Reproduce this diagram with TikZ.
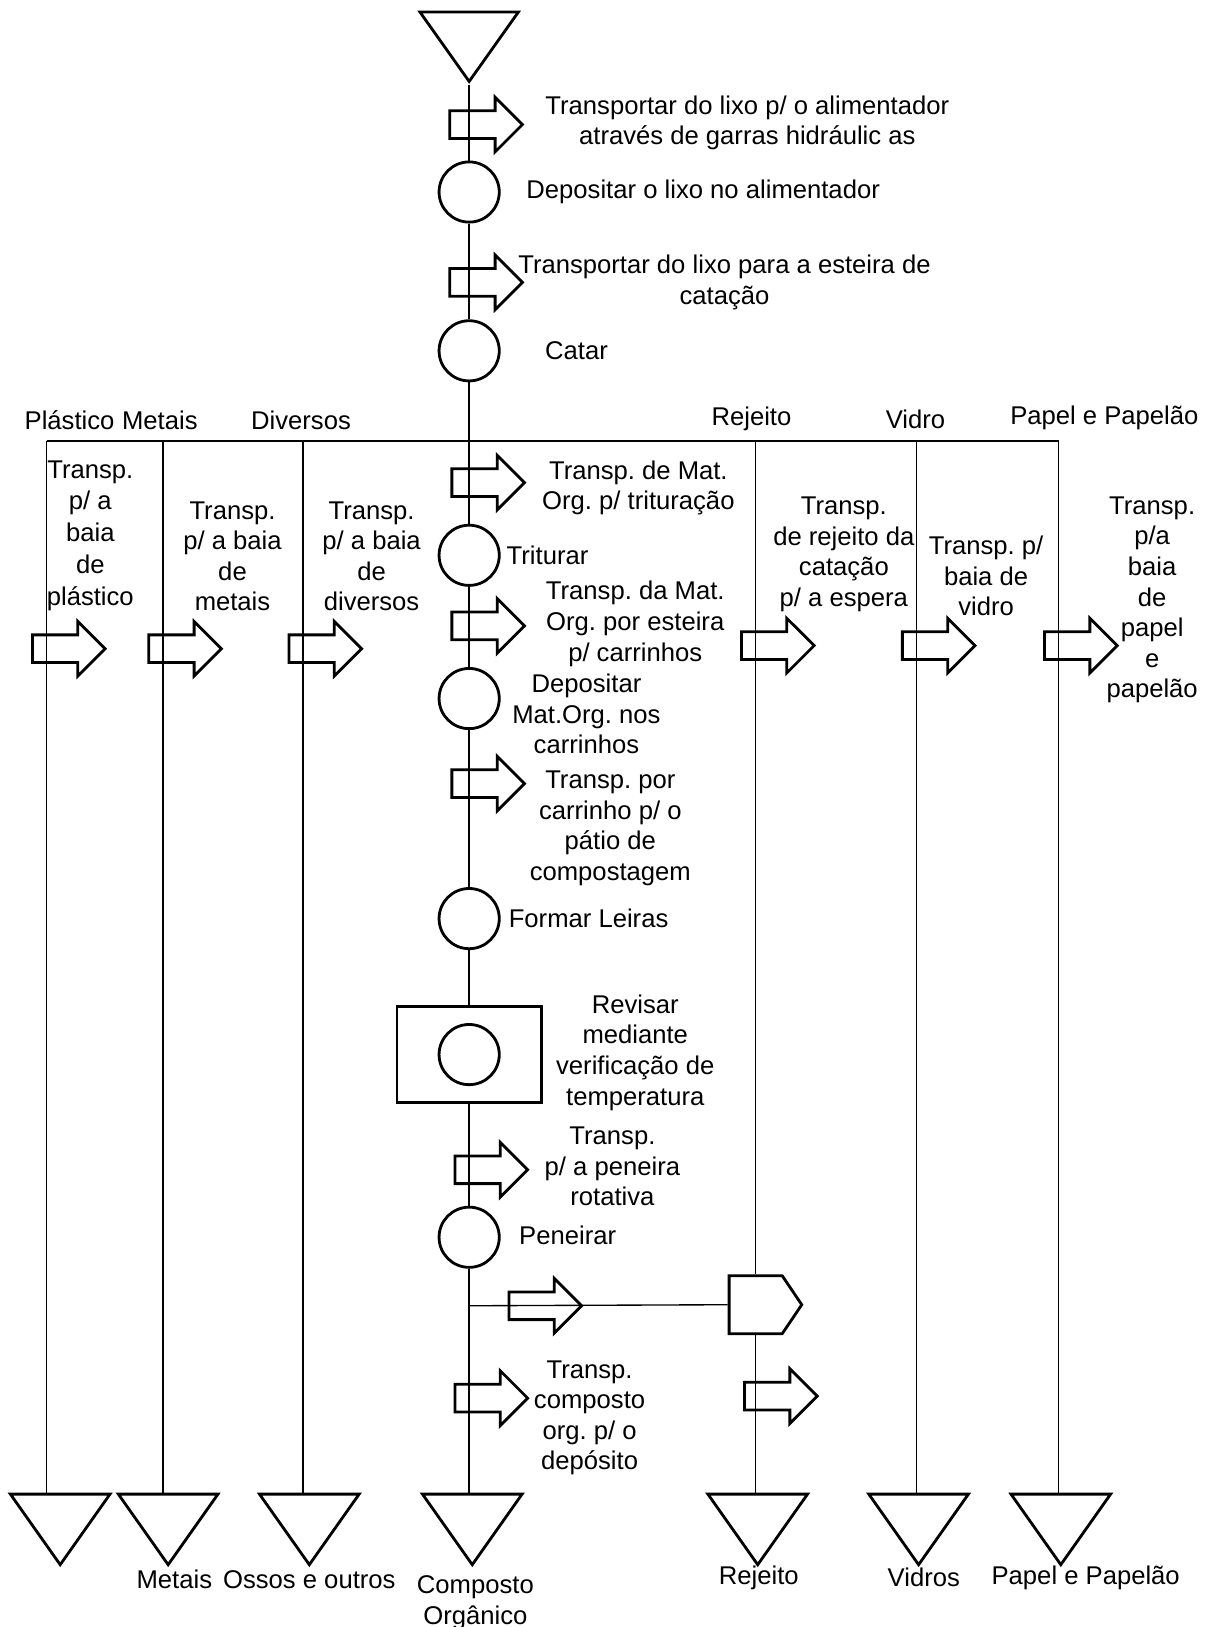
\documentclass[tikz,border=0pt]{standalone}
\usepackage{fontspec}
\setmainfont{Liberation Sans}
\usetikzlibrary{shapes.geometric,shapes.arrows,shapes.symbols}
\begin{document}
\frenchspacing
\begin{tikzpicture}[x=1pt,y=-1pt,
  font=\fontsize{24.7}{29.5}\selectfont,
  conn/.style={line width=1.3pt},
  opcirc/.style={circle,draw,line width=2.7pt,minimum size=58pt,inner sep=0pt},
  transp/.style={single arrow,draw,line width=2.7pt,single arrow head extend=13pt,
     single arrow tip angle=90,inner xsep=0pt,inner ysep=12pt,minimum height=70pt,anchor=tail},
  topstore/.style={isosceles triangle,draw,line width=2.7pt,shape border rotate=270,
     isosceles triangle stretches,minimum width=95pt,minimum height=67pt,inner sep=0pt,anchor=apex},
  botstore/.style={isosceles triangle,draw,line width=2.7pt,shape border rotate=270,
     isosceles triangle stretches,minimum width=96pt,minimum height=68pt,inner sep=0pt,anchor=apex},
  inspect/.style={rectangle,draw,line width=2.7pt,minimum width=139pt,minimum height=92pt,inner sep=0pt},
  delay/.style={signal,signal to=east,draw,line width=2.7pt,minimum width=70pt,minimum height=56pt,
     signal pointer angle=112,inner sep=0pt},
  lbl/.style={align=center,inner sep=0pt},
  lblw/.style={anchor=west,inner sep=0pt},
]
\useasboundingbox (0,0) rectangle (1160,1567.5);

% ---- main column nodes
\node[topstore] (T0) at (452,82) {};
\node[opcirc] (C1) at (452,185) {};
\node[opcirc] (C2) at (452,338) {};
\node[opcirc] (C3) at (452,535) {};
\node[opcirc] (C4) at (452,673) {};
\node[opcirc] (C5) at (452,885) {};
\node[inspect] (R) at (452,1016) {};
\node[opcirc] (RC) at (R.center) {};
\node[opcirc] (C6) at (452,1192) {};
\node[delay] (P) at (728,1257) {};

% ---- bottom storages
\node[botstore] (TPl) at (58,1511) {};
\node[botstore] (TMe) at (162,1511) {};
\node[botstore] (TDi) at (298,1511) {};
\node[botstore] (TCo) at (455,1511) {};
\node[botstore] (TRe) at (730,1511) {};
\node[botstore] (TVi) at (885,1511) {};
\node[botstore] (TPa) at (1022,1511) {};

% ---- column tops on the horizontal line
\coordinate (cPl) at (45,425);
\coordinate (cMe) at (157,425);
\coordinate (cDi) at (292,425);
\coordinate (cRe) at (728,425);
\coordinate (cVi) at (883,425);
\coordinate (cPa) at (1020,425);
\coordinate (br) at (452,1258);

% ---- connectors
\draw[conn] (T0.apex) -- (C1.north);
\draw[conn] (C1.south) -- (C2.north);
\draw[conn] (C2.south) -- (C3.north);
\draw[conn] (C3.south) -- (C4.north);
\draw[conn] (C4.south) -- (C5.north);
\draw[conn] (C5.south) -- (R.north);
\draw[conn] (R.south) -- (C6.north);
\draw[conn] (C6.south) -- (C6.south |- TCo.left corner);
\draw[conn] (br) -- (P.west);
\draw[conn] (cPl) -- (cPa);
\draw[conn] (cPl) -- (cPl |- TPl.left corner);
\draw[conn] (cMe) -- (cMe |- TMe.left corner);
\draw[conn] (cDi) -- (cDi |- TDi.left corner);
\draw[conn] (cRe) -- (P.north);
\draw[conn] (P.south) -- (P.south |- TRe.left corner);
\draw[conn] (cVi) -- (cVi |- TVi.left corner);
\draw[conn] (cPa) -- (cPa |- TPa.left corner);

% ---- transport arrows
\node[transp] (A1) at (432,120) {};
\node[transp] (A2) at (432,272) {};
\node[transp] (A3) at (434,465) {};
\node[transp] (A4) at (434,603) {};
\node[transp] (A5) at (434,755) {};
\node[transp] (A6) at (437,1127) {};
\node[transp] (A7) at (489,1258) {};
\node[transp] (A8) at (437,1347) {};
\node[transp] (A9) at (716,1345) {};
\node[transp] (S1) at (30,625) {};
\node[transp] (S2) at (142,625) {};
\node[transp] (S3) at (277,625) {};
\node[transp] (S4) at (713,622) {};
\node[transp] (S5) at (868,622) {};
\node[transp] (S6) at (1005,622) {};

% ---- texts, main column
\node[lbl] (t1) at (720,118.5) {Transportar do lixo p/ o alimentador\\através de garras hidráulic as};
\node[lblw] (t2) at (507,185) {Depositar o lixo no alimentador};
\node[lbl] (t3) at (698,272) {Transportar do lixo para a esteira de\\catação};
\node[lblw] (t4) at (525,338) {Catar};
\node[lbl] (t5) at (615,470) {Transp. de Mat.\\Org. p/ trituração};
\node[lblw] (t6) at (488,535) {Triturar};
\node[lbl] (t7) at (612,601) {Transp. da Mat.\\Org. por esteira\\p/ carrinhos};
\node[lbl] (t8) at (565,688) {Depositar\\Mat.Org. nos\\carrinhos};
\node[lbl] (t9) at (588,798) {Transp. por\\carrinho p/ o\\pátio de\\compostagem};
\node[lblw] (t10) at (490,885) {Formar Leiras};
\node[lbl] (t11) at (612,1014) {Revisar\\mediante\\verificação de\\temperatura};
\node[lbl] (t12) at (590,1124) {Transp.\\p/ a peneira\\rotativa};
\node[lblw] (t13) at (500,1190) {Peneirar};
\node[lbl] (t14) at (568,1366) {Transp.\\composto\\org. p/ o\\depósito};

% ---- column headers
\node[lbl] (h1) at (67,405) {Plástico};
\node[lbl] (h2) at (154,405) {Metais};
\node[lbl] (h3) at (290,405) {Diversos};
\node[lbl] (h4) at (724,404) {Rejeito};
\node[lbl] (h5) at (882,404) {Vidro};
\node[lbl] (h6) at (1064,403) {Papel e Papelão};

% ---- side column texts
\node[lbl,font=\fontsize{24.7}{30.7}\selectfont] (s1) at (87,516) {Transp.\\p/ a\\baia\\de\\plástico};
\node[lbl] (s2) at (224,536) {Transp.\\p/ a baia\\de\\metais};
\node[lbl] (s3) at (358,536) {Transp.\\p/ a baia\\de\\diversos};
\node[lbl] (s4) at (813,534) {Transp.\\de rejeito da\\catação\\p/ a espera};
\node[lbl] (s5) at (950,555) {Transp. p/\\baia de\\vidro};
\node[lbl] (s6) at (1110,578) {Transp.\\p/a\\baia\\de\\papel\\e\\papelão};

% ---- bottom labels
\node[lbl] (b1) at (168,1522) {Metais};
\node[lbl] (b2) at (298,1522) {Ossos e outros};
\node[lbl] (b3) at (458,1544) {Composto\\Orgânico};
\node[lbl] (b4) at (731,1520) {Rejeito};
\node[lbl] (b5) at (890,1520) {Vidros};
\node[lbl] (b6) at (1046,1520) {Papel e Papelão};
\end{tikzpicture}
\end{document}
